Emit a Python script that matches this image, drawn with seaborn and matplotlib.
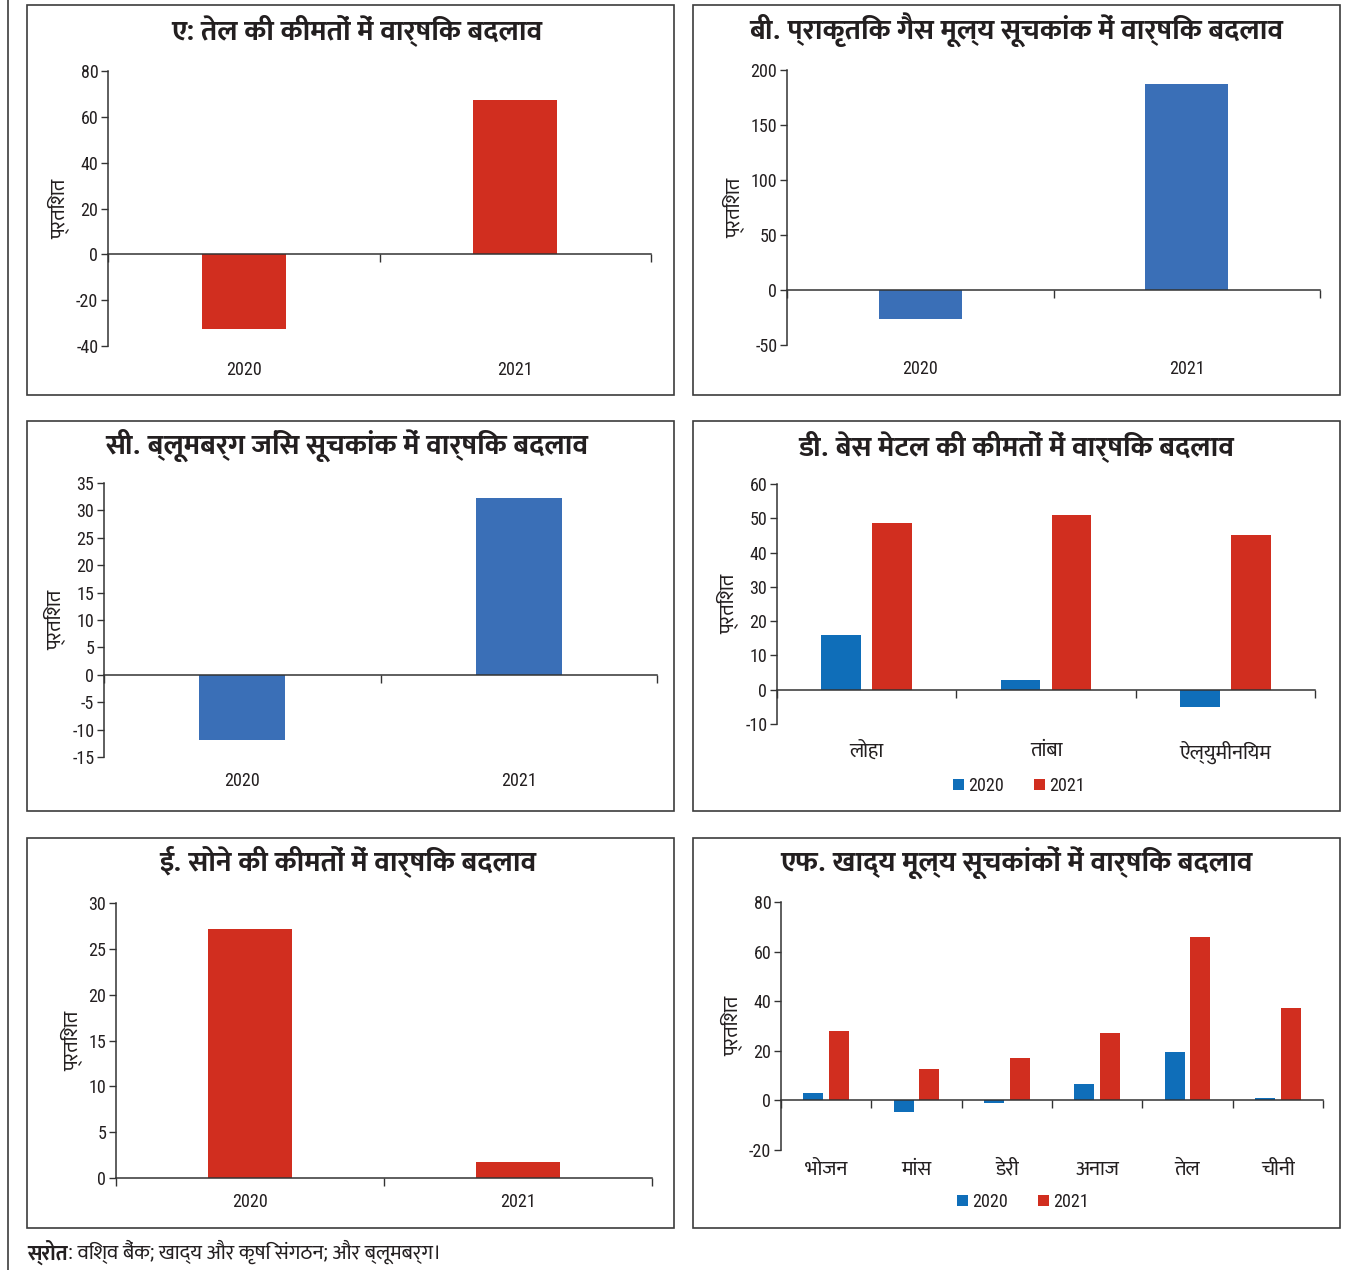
import matplotlib
matplotlib.use('Agg')
import matplotlib.pyplot as plt
import seaborn as sns
import pandas as pd
from matplotlib import font_manager
from matplotlib.patches import Rectangle
from matplotlib.lines import Line2D

# data
years = ['2020', '2021']
oil_vals = [-32.5, 67.2]
gas_vals = [-26.0, 187.0]
bcom_vals = [-11.9, 32.3]
gold_vals = [27.2, 1.7]

metals = ['लोहा', 'तांबा', 'ऐल्युमीनियम']
metals_2020 = [16.0, 2.7, -5.0]
metals_2021 = [48.5, 51.0, 45.2]

foods = ['भोजन', 'मांस', 'डेरी', 'अनाज', 'तेल', 'चीनी']
foods_2020 = [3.1, -4.5, -1.0, 6.6, 19.5, 1.0]
foods_2021 = [28.1, 12.6, 16.9, 27.2, 65.8, 37.4]

titles = [
    'ए: तेल की कीमतों में वार्षिक बदलाव',
    'बी. प्राकृतिक गैस मूल्य सूचकांक में वार्षिक बदलाव',
    'सी. ब्लूमबर्ग जिंस सूचकांक में वार्षिक बदलाव',
    'डी. बेस मेटल की कीमतों में वार्षिक बदलाव',
    'ई. सोने की कीमतों में वार्षिक बदलाव',
    'एफ. खाद्य मूल्य सूचकांकों में वार्षिक बदलाव',
]
ylabel = 'प्रतिशत'
source_head = 'स्रोत'
source_body = ': विश्व बैंक; खाद्य और कृषि संगठन; और ब्लूमबर्ग।'

RED = '#D12E1F'
BLUE_A = '#3A6FB7'
BLUE_B = '#0F6EB9'
INK = '#231F20'

sns.set_theme(style='white')
avail = {f.name for f in font_manager.fontManager.ttflist}
fams = [f for f in ['Roboto Condensed', 'Mukta', 'Ek Mukta', 'Noto Sans Devanagari',
                    'FreeSans', 'DejaVu Sans'] if f in avail]
plt.rcParams['font.family'] = fams
plt.rcParams['text.color'] = INK
plt.rcParams['axes.labelcolor'] = INK
plt.rcParams['xtick.color'] = INK
plt.rcParams['ytick.color'] = INK

W, H = 1350, 1270
fig = plt.figure(figsize=(W / 100, H / 100), dpi=100)


def fx(px):
    return px / W


def fy(py):
    return 1 - py / H


# panel frames and left rule
cols = [(27, 674), (693, 1340)]
rows = [(5, 395), (421, 811), (838, 1228)]
for (y0, y1) in rows:
    for (x0, x1) in cols:
        fig.add_artist(Rectangle((fx(x0), fy(y1)), fx(x1 - x0), (y1 - y0) / H,
                                 transform=fig.transFigure, fill=False,
                                 edgecolor='#3C3C3C', lw=1.2))
fig.add_artist(Line2D([fx(8), fx(8)], [0, 1], transform=fig.transFigure,
                      color='#3C3C3C', lw=1.2))


def make_ax(l, t, r, b):
    return fig.add_axes([fx(l), fy(b), fx(r - l), (b - t) / H])


def style_ax(ax, cats, ylim, step, label_pad, label_size):
    n = len(cats)
    sns.despine(ax=ax)
    ax.spines['bottom'].set_position(('data', 0))
    for s in ['left', 'bottom']:
        ax.spines[s].set_color('#333333')
        ax.spines[s].set_linewidth(1.1)
    ax.set_xticks([i - 0.5 for i in range(n + 1)])
    ax.tick_params(axis='x', bottom=True, direction='out', length=6, width=1,
                   color='#333333', labelbottom=False)
    ax.set_xlim(-0.5, n - 0.5)
    ax.set_ylim(*ylim)
    yt = list(range(ylim[0], ylim[1] + 1, step))
    ax.set_yticks(yt)
    ax.set_yticklabels([str(v) for v in yt])
    ax.tick_params(axis='y', left=True, direction='out', length=5, width=1,
                   color='#333333', labelsize=13, pad=2)
    ax.set_xlabel('')
    ax.set_ylabel(ylabel, fontsize=15, labelpad=4)
    sec = ax.secondary_xaxis('bottom')
    sec.set_xticks(range(n), labels=cats)
    sec.tick_params(bottom=False, length=0, pad=label_pad, labelsize=label_size)
    sec.spines['bottom'].set_visible(False)
    ax.set_facecolor('none')


def single(ax, vals, color, ylim, step):
    sns.barplot(x=years, y=vals, color=color, width=0.31, saturation=1,
                errorbar=None, linewidth=0, ax=ax)
    style_ax(ax, years, ylim, step, 11, 13)


def grouped(ax, cats, v20, v21, ylim, step, label_pad, legend_xy):
    df = pd.DataFrame({
        'cat': cats * 2,
        'year': ['2020'] * len(cats) + ['2021'] * len(cats),
        'val': v20 + v21,
    })
    sns.barplot(data=df, x='cat', y='val', hue='year', palette=[BLUE_B, RED],
                width=0.57, gap=0.22, saturation=1, errorbar=None, linewidth=0, ax=ax)
    handles, labels = ax.get_legend_handles_labels()
    ax.legend(handles, labels, loc='center', bbox_to_anchor=legend_xy,
              bbox_transform=fig.transFigure, ncol=2, frameon=False,
              fontsize=13, handlelength=0.6, handleheight=0.6, handletextpad=0.2,
              columnspacing=1.7)
    style_ax(ax, cats, ylim, step, label_pad, 15)


axA = make_ax(108, 71, 651, 346)
single(axA, oil_vals, RED, (-40, 80), 20)
axB = make_ax(787, 70, 1320, 345)
single(axB, gas_vals, BLUE_A, (-50, 200), 50)
axC = make_ax(104, 483, 657, 757)
single(axC, bcom_vals, BLUE_A, (-15, 35), 5)
axD = make_ax(777, 484, 1315, 724)
grouped(axD, metals, metals_2020, metals_2021, (-10, 60), 10, 12, (fx(1019), fy(786)))
axE = make_ax(116, 903, 652, 1178)
single(axE, gold_vals, RED, (0, 30), 5)
axF = make_ax(781, 902, 1323, 1150)
grouped(axF, foods, foods_2020, foods_2021, (-20, 80), 20, 7, (fx(1023), fy(1202)))

# titles centred over each frame
title_pos = [(357, 30), (1016, 30), (347, 445), (1016, 446), (348, 861), (1016, 862)]
for t, (x, y) in zip(titles, title_pos):
    fig.text(fx(x), fy(y), t, ha='center', va='center', fontsize=20.5, fontweight='bold')

# source line
src = fig.text(fx(27), fy(1252), source_head, ha='left', va='center',
               fontsize=15, fontweight='bold')
fig.canvas.draw()
bb = src.get_window_extent()
fig.text(bb.x1 / W, fy(1252), source_body, ha='left', va='center', fontsize=15)

fig.savefig('out.png', dpi=100)
